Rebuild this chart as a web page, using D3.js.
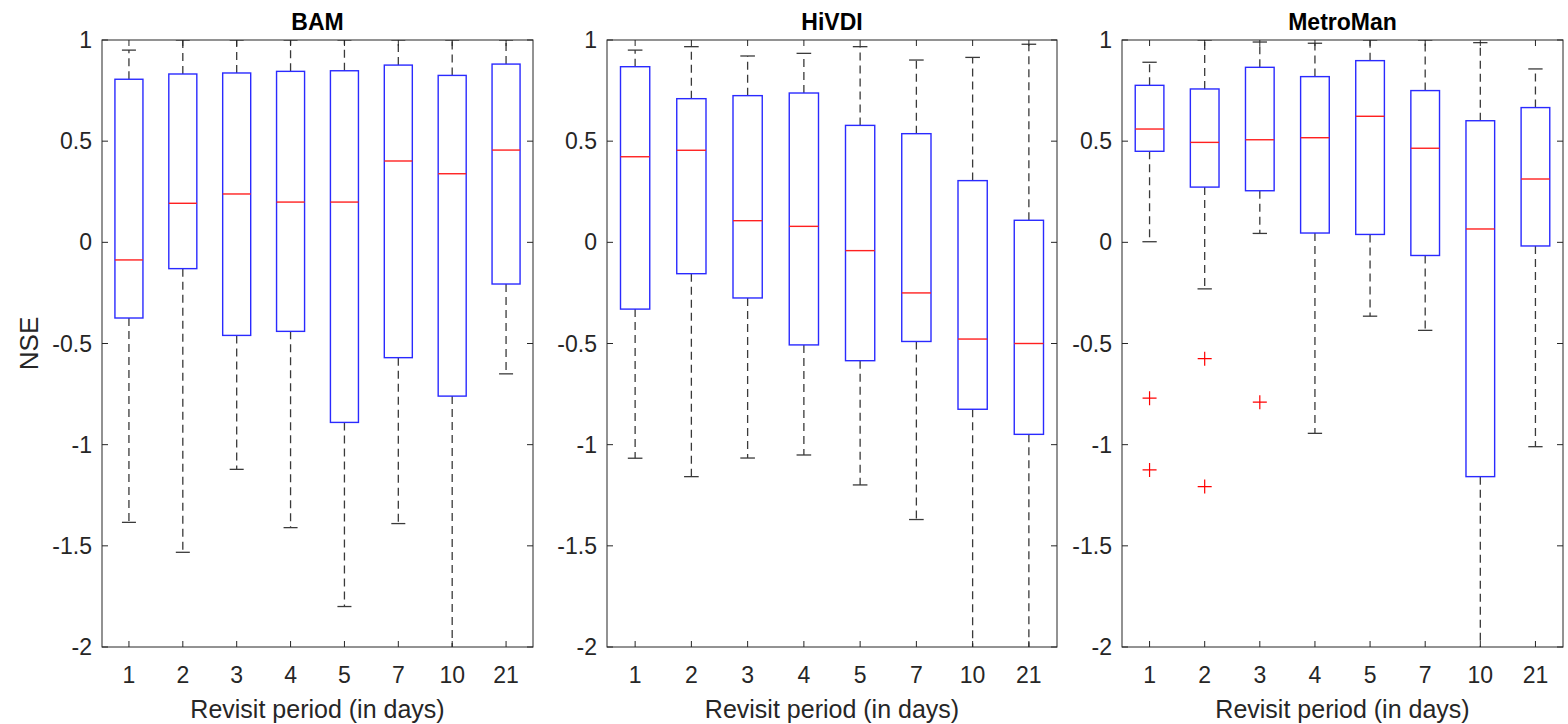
<!DOCTYPE html>
<html>
<head>
<meta charset="utf-8">
<script src="https://cdn.jsdelivr.net/npm/d3@7"></script>
<style>
body { margin: 0; background: #fff; }
svg { font-family: "Liberation Sans", Arial, sans-serif; }
</style>
</head>
<body>
<div class="container"></div>
<script>
// revisit periods (x categories)
var periods = ["1", "2", "3", "4", "5", "7", "10", "21"];
var yTicks = [1, 0.5, 0, -0.5, -1, -1.5, -2];
var methods = ["BAM", "HiVDI", "MetroMan"];

// box statistics, one value per period
var bamHigh = [0.95, 1.0, 1.0, 1.0, 1.0, 1.0, 1.0, 1.0];
var bamQ3 = [0.806, 0.832, 0.837, 0.845, 0.848, 0.876, 0.825, 0.881];
var bamMed = [-0.087, 0.193, 0.239, 0.199, 0.199, 0.402, 0.339, 0.456];
var bamQ1 = [-0.374, -0.13, -0.46, -0.44, -0.89, -0.57, -0.76, -0.206];
var bamLow = [-1.384, -1.532, -1.122, -1.41, -1.80, -1.39, -2.2, -0.65];
var bamOut = [[], [], [], [], [], [], [], []];

var hivHigh = [0.95, 0.967, 0.921, 0.934, 0.967, 0.901, 0.914, 0.979];
var hivQ3 = [0.868, 0.71, 0.725, 0.738, 0.578, 0.537, 0.305, 0.109];
var hivMed = [0.423, 0.455, 0.107, 0.079, -0.041, -0.25, -0.478, -0.50];
var hivQ1 = [-0.33, -0.155, -0.275, -0.507, -0.585, -0.49, -0.825, -0.949];
var hivLow = [-1.067, -1.158, -1.066, -1.051, -1.199, -1.37, -2.2, -2.2];
var hivOut = [[], [], [], [], [], [], [], []];

var metHigh = [0.89, 1.0, 0.99, 0.984, 1.0, 1.0, 0.987, 0.857];
var metQ3 = [0.776, 0.758, 0.865, 0.819, 0.898, 0.75, 0.601, 0.666];
var metMed = [0.56, 0.494, 0.507, 0.517, 0.623, 0.465, 0.066, 0.313];
var metQ1 = [0.45, 0.273, 0.255, 0.046, 0.039, -0.065, -1.158, -0.018];
var metLow = [0.003, -0.23, 0.044, -0.944, -0.365, -0.435, -2.2, -1.01];
var metOut = [[-0.77, -1.125], [-0.575, -1.207], [-0.79], [], [], [], [], []];

var allStats = [
	[bamHigh, bamQ3, bamMed, bamQ1, bamLow, bamOut],
	[hivHigh, hivQ3, hivMed, hivQ1, hivLow, hivOut],
	[metHigh, metQ3, metMed, metQ1, metLow, metOut]
];

var width = 1568, height = 724;
var plotTop = 40, plotBottom = 647;
var panelX = [[102, 533], [607, 1057], [1122, 1563]];
var axisColor = "#262626";

var svg = d3.select(".container").append("svg")
	.attr("width", width)
	.attr("height", height);

var y = d3.scaleLinear().domain([-2, 1]).range([plotBottom, plotTop]);

methods.forEach(function(name, p){
	var x0 = panelX[p][0], x1 = panelX[p][1];
	var st = allStats[p];
	var x = d3.scalePoint().domain(periods).range([x0, x1]).padding(0.5);
	var bw = x.step() * 0.52;
	var g = svg.append("g");

	g.append("clipPath").attr("id", "clip" + p)
		.append("rect").attr("x", x0).attr("y", plotTop)
		.attr("width", x1 - x0).attr("height", plotBottom - plotTop);

	var plot = g.append("g").attr("clip-path", "url(#clip" + p + ")");

	periods.forEach(function(per, i){
		var cx = x(per);
		// whiskers
		plot.append("line")
			.attr("x1", cx).attr("x2", cx)
			.attr("y1", y(st[1][i])).attr("y2", y(st[0][i]))
			.attr("stroke", "#3a3a3a").attr("stroke-width", 1.3)
			.attr("stroke-dasharray", "8,5");
		plot.append("line")
			.attr("x1", cx).attr("x2", cx)
			.attr("y1", y(st[3][i])).attr("y2", y(st[4][i]))
			.attr("stroke", "#3a3a3a").attr("stroke-width", 1.3)
			.attr("stroke-dasharray", "8,5");
		// caps
		[st[0][i], st[4][i]].forEach(function(v){
			plot.append("line")
				.attr("x1", cx - bw / 4).attr("x2", cx + bw / 4)
				.attr("y1", y(v)).attr("y2", y(v))
				.attr("stroke", "#3a3a3a").attr("stroke-width", 1.3);
		});
		// box
		plot.append("rect")
			.attr("x", cx - bw / 2).attr("width", bw)
			.attr("y", y(st[1][i])).attr("height", y(st[3][i]) - y(st[1][i]))
			.attr("fill", "none").attr("stroke", "#2a2aff").attr("stroke-width", 1.4);
		// median
		plot.append("line")
			.attr("x1", cx - bw / 2).attr("x2", cx + bw / 2)
			.attr("y1", y(st[2][i])).attr("y2", y(st[2][i]))
			.attr("stroke", "#ff2020").attr("stroke-width", 1.4);
		// outliers
		st[5][i].forEach(function(v){
			var oy = y(v);
			plot.append("path")
				.attr("d", "M" + (cx - 7) + "," + oy + "H" + (cx + 7) + "M" + cx + "," + (oy - 7) + "V" + (oy + 7))
				.attr("stroke", "#ff0000").attr("stroke-width", 1.2).attr("fill", "none");
		});
	});

	// axes (MATLAB style, ticks inside, box on)
	var tl = 6;
	var ax = g.append("g");
	ax.append("rect").attr("x", x0).attr("y", plotTop)
		.attr("width", x1 - x0).attr("height", plotBottom - plotTop)
		.attr("fill", "none").attr("stroke", axisColor).attr("stroke-width", 1);

	periods.forEach(function(per){
		var cx = x(per);
		ax.append("line").attr("x1", cx).attr("x2", cx).attr("y1", plotBottom).attr("y2", plotBottom - tl)
			.attr("stroke", axisColor);
		ax.append("line").attr("x1", cx).attr("x2", cx).attr("y1", plotTop).attr("y2", plotTop + tl)
			.attr("stroke", axisColor);
		ax.append("text").attr("x", cx).attr("y", plotBottom + 36)
			.attr("text-anchor", "middle").attr("font-size", 23).attr("fill", axisColor)
			.text(per);
	});

	yTicks.forEach(function(t){
		var ty = y(t);
		ax.append("line").attr("x1", x0).attr("x2", x0 + tl).attr("y1", ty).attr("y2", ty)
			.attr("stroke", axisColor);
		ax.append("line").attr("x1", x1).attr("x2", x1 - tl).attr("y1", ty).attr("y2", ty)
			.attr("stroke", axisColor);
		ax.append("text").attr("x", x0 - 10).attr("y", ty + 8)
			.attr("text-anchor", "end").attr("font-size", 23).attr("fill", axisColor)
			.text(t);
	});

	ax.append("text").attr("x", (x0 + x1) / 2).attr("y", 718)
		.attr("text-anchor", "middle").attr("font-size", 25).attr("fill", axisColor)
		.text("Revisit period (in days)");

	ax.append("text").attr("x", (x0 + x1) / 2).attr("y", 30)
		.attr("text-anchor", "middle").attr("font-size", 23).attr("font-weight", "bold")
		.attr("fill", "#000")
		.text(name);
});

svg.append("text")
	.attr("transform", "translate(38," + ((plotTop + plotBottom) / 2) + ") rotate(-90)")
	.attr("text-anchor", "middle").attr("font-size", 26).attr("fill", axisColor)
	.text("NSE");
</script>
</body>
</html>
